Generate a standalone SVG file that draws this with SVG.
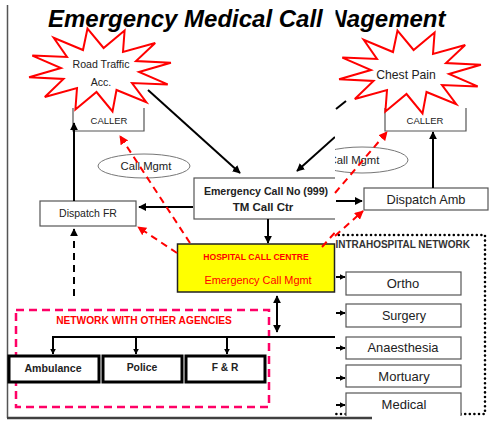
<svg xmlns="http://www.w3.org/2000/svg" width="490" height="421" viewBox="0 0 490 421">
  <style>
    .t { font-family: "Liberation Sans", Arial, sans-serif; fill: #222; }
    .b { font-weight: bold; }
    .red { fill: #ff0000; }
    .box { fill: #fff; stroke: #555; stroke-width: 1.2; }
    .agency { fill: #fff; stroke: #000; stroke-width: 3; }
    .star { fill: #fff; stroke: #ff0000; stroke-width: 2; stroke-linejoin: miter; }
    .ln { stroke: #000; stroke-width: 2; fill: none; }
    .rd { stroke: #ff0000; stroke-width: 2; fill: none; stroke-dasharray: 7 5; }
  </style>
  <defs>
    <marker id="ah" viewBox="0 0 10 10" refX="9" refY="5" markerWidth="8" markerHeight="8" markerUnits="userSpaceOnUse" orient="auto-start-reverse">
      <path d="M0,0 L10,5 L0,10 z" fill="#000"/>
    </marker>
    <marker id="ahs" viewBox="0 0 10 10" refX="9" refY="5" markerWidth="6" markerHeight="6" markerUnits="userSpaceOnUse" orient="auto">
      <path d="M0,0 L10,5 L0,10 z" fill="#000"/>
    </marker>
    <marker id="ahr" viewBox="0 0 10 10" refX="9" refY="5" markerWidth="9" markerHeight="9" markerUnits="userSpaceOnUse" orient="auto">
      <path d="M0,0 L10,5 L0,10 z" fill="#ff0000"/>
    </marker>
    <!-- twelve-point burst outline shared by both incident labels -->
    <polygon id="burst" points="87.5,28.6 103.6,48 124.6,30.5 123,52 155.2,43 136,61 170.9,62.7 139,72 167.7,84.4 132,83 146.3,102.2 116.5,90 112.5,111.4 96.5,92 75.4,109.5 77,88 44.8,97 63.5,79 29.1,77.3 61,68 32.3,55.6 67,57 53.7,37.8 83,50"/>
    <clipPath id="clipL"><rect x="0" y="0" width="335" height="421"/></clipPath>
    <clipPath id="clipR"><rect x="335" y="0" width="155" height="416"/></clipPath>
    <clipPath id="clipTitle"><path clip-rule="evenodd" d="M0,0 H490 V40 H0 Z M326,4 H335.5 V36 H326 Z"/></clipPath>
  </defs>

  <!-- page frame -->
  <line x1="7.5" y1="5" x2="7.5" y2="418" stroke="#555" stroke-width="1.5"/>
  <line x1="7" y1="418" x2="372" y2="418" stroke="#404040" stroke-width="2.5"/>

  <!-- heading -->
  <g id="title" clip-path="url(#clipTitle)">
    <text class="t b" x="48" y="27" font-size="24" font-style="italic" style="fill:#000">Emergency Medical Call Nagement</text>
  </g>

  <!-- left side of the sheet -->
  <g id="caller-left">
    <path d="M73,108 V131 H144 V108" class="box"/>
    <text class="t" x="109" y="124" font-size="9.5" text-anchor="middle">CALLER</text>
  </g>
  <g id="incident-road">
    <use href="#burst" class="star"/>
    <text class="t" x="101" y="68" font-size="10.6" text-anchor="middle">Road Traffic</text>
    <text class="t" x="101" y="86" font-size="10.6" text-anchor="middle">Acc.</text>
  </g>
  <g id="note-left">
    <ellipse cx="144" cy="166" rx="46" ry="12" fill="#fff" stroke="#777" stroke-width="1"/>
    <text class="t" x="146" y="170" font-size="11.3" text-anchor="middle">Call Mgmt</text>
  </g>
  <g id="dispatch-fr">
    <rect x="40" y="201" width="96" height="25" class="box"/>
    <text class="t" x="88" y="217" font-size="10.5" text-anchor="middle">Dispatch FR</text>
  </g>
  <g id="call-centre-999" clip-path="url(#clipL)">
    <rect x="194" y="178" width="144" height="41" class="box"/>
    <text class="t b" x="266" y="195" font-size="10.6" text-anchor="middle">Emergency Call No (999)</text>
    <text class="t b" x="263" y="211" font-size="11.5" text-anchor="middle">TM Call Ctr</text>
  </g>
  <g id="hospital-call-centre">
    <rect x="177.5" y="244" width="157" height="48" fill="#ffff00" stroke="#222" stroke-width="1.5"/>
    <text class="t b red" x="256" y="260" font-size="8.6" text-anchor="middle">HOSPITAL CALL CENTRE</text>
    <text class="t red" x="258" y="284" font-size="10.9" text-anchor="middle">Emergency Call Mgmt</text>
  </g>
  <g id="agencies-network">
    <rect x="16" y="310" width="253" height="97" fill="none" stroke="#ff0066" stroke-width="2.5" stroke-dasharray="8 5"/>
    <text class="t b red" x="144" y="324" font-size="10.2" text-anchor="middle">NETWORK WITH OTHER AGENCIES</text>
  </g>
  <g id="ambulance">
    <rect x="9" y="356" width="90" height="26" class="agency"/>
    <text class="t b" x="53" y="372" font-size="10.6" text-anchor="middle">Ambulance</text>
  </g>
  <g id="police">
    <rect x="103" y="356" width="79" height="26" class="agency"/>
    <text class="t b" x="142" y="371" font-size="10.4" text-anchor="middle">Police</text>
  </g>
  <g id="fire-rescue">
    <rect x="186" y="356" width="79" height="26" class="agency"/>
    <text class="t b" x="225" y="371" font-size="10.2" text-anchor="middle">F &amp; R</text>
  </g>

  <!-- right side of the sheet -->
  <g id="caller-right" clip-path="url(#clipR)">
    <path d="M385,108 V131 H466 V108" class="box"/>
    <text class="t" x="425" y="124" font-size="9.5" text-anchor="middle">CALLER</text>
  </g>
  <g id="incident-chest" clip-path="url(#clipR)">
    <use href="#burst" class="star" transform="translate(310,2)"/>
    <text class="t" x="406" y="79" font-size="12.2" text-anchor="middle">Chest Pain</text>
  </g>
  <g id="note-right" clip-path="url(#clipR)">
    <ellipse cx="362" cy="160" rx="46" ry="13" fill="#fff" stroke="#777" stroke-width="1"/>
    <text class="t" x="354" y="164" font-size="11.3" text-anchor="middle">Call Mgmt</text>
  </g>
  <g id="dispatch-amb" clip-path="url(#clipR)">
    <rect x="364" y="188" width="124" height="22" class="box"/>
    <text class="t" x="426" y="204" font-size="12.8" text-anchor="middle">Dispatch Amb</text>
  </g>
  <g id="intrahospital-network" clip-path="url(#clipR)">
    <rect x="325" y="235" width="160" height="179" fill="none" stroke="#000" stroke-width="2.6" stroke-linecap="round" stroke-dasharray="0 4.6"/>
    <text class="t b" x="470" y="248" font-size="10" text-anchor="end" style="fill:#333">INTRAHOSPITAL NETWORK</text>
  </g>
  <g id="dept-ortho">
    <rect x="346" y="272" width="115" height="23" class="box"/>
    <text class="t" x="403" y="288" font-size="13" text-anchor="middle">Ortho</text>
  </g>
  <g id="dept-surgery">
    <rect x="346" y="304" width="115" height="23" class="box"/>
    <text class="t" x="404" y="320" font-size="12.6" text-anchor="middle">Surgery</text>
  </g>
  <g id="dept-anaesthesia">
    <rect x="346" y="337" width="115" height="22" class="box"/>
    <text class="t" x="403" y="352" font-size="12.9" text-anchor="middle">Anaesthesia</text>
  </g>
  <g id="dept-mortuary">
    <rect x="346" y="365" width="115" height="22" class="box"/>
    <text class="t" x="404" y="381" font-size="13" text-anchor="middle">Mortuary</text>
  </g>
  <g id="dept-medical" clip-path="url(#clipR)">
    <rect x="346" y="393" width="115" height="26" class="box"/>
    <text class="t" x="404" y="409" font-size="13" text-anchor="middle">Medical</text>
  </g>

  <!-- connectors -->
  <g id="connectors">
    <line x1="74" y1="201" x2="74" y2="123" class="ln" marker-end="url(#ah)"/>
    <line x1="148" y1="90" x2="240" y2="173" class="ln" marker-end="url(#ah)"/>
    <line x1="335" y1="137" x2="297" y2="171" class="ln" marker-end="url(#ah)" clip-path="url(#clipL)"/>
    <line x1="336" y1="109" x2="346" y2="101" class="ln"/>
    <line x1="193" y1="207" x2="139" y2="207" class="ln" stroke-width="2.5" marker-end="url(#ah)"/>
    <line x1="268" y1="219" x2="268" y2="243" class="ln" marker-end="url(#ah)"/>
    <line x1="336" y1="201" x2="362" y2="201" class="ln" marker-end="url(#ah)"/>
    <line x1="433" y1="188" x2="433" y2="132" class="ln" stroke-width="2.5" marker-end="url(#ah)"/>
    <line x1="74" y1="296" x2="74" y2="229" class="ln" stroke-dasharray="7 5" marker-end="url(#ah)"/>
    <line x1="277" y1="296" x2="277" y2="332" class="ln" marker-start="url(#ah)" marker-end="url(#ah)"/>
    <line x1="52" y1="337" x2="335" y2="337" class="ln" stroke-width="2.5"/>
    <line x1="53" y1="337" x2="53" y2="354" class="ln" marker-end="url(#ahs)"/>
    <line x1="136" y1="337" x2="136" y2="354" class="ln" marker-end="url(#ahs)"/>
    <line x1="227" y1="337" x2="227" y2="354" class="ln" marker-end="url(#ahs)"/>
    <!-- red dashed links from the hospital call centre -->
    <line x1="190" y1="243" x2="120" y2="136" class="rd" marker-end="url(#ahr)"/>
    <line x1="177" y1="253" x2="138" y2="227" class="rd" marker-end="url(#ahr)"/>
    <line x1="322" y1="247" x2="338" y2="229" class="rd" clip-path="url(#clipL)"/>
    <line x1="335" y1="193" x2="387" y2="132" class="rd" marker-end="url(#ahr)"/>
    <line x1="335" y1="236" x2="363" y2="211" class="rd" marker-end="url(#ahr)"/>
    <!-- feeds into each department -->
    <line x1="336" y1="277" x2="345" y2="277" class="ln" stroke-width="1.5" marker-end="url(#ahs)"/>
    <line x1="336" y1="313" x2="345" y2="313" class="ln" stroke-width="1.5" marker-end="url(#ahs)"/>
    <line x1="336" y1="348" x2="345" y2="348" class="ln" stroke-width="1.5" marker-end="url(#ahs)"/>
    <line x1="336" y1="378" x2="345" y2="378" class="ln" stroke-width="1.5" marker-end="url(#ahs)"/>
    <line x1="336" y1="405" x2="345" y2="405" class="ln" stroke-width="1.5" marker-end="url(#ahs)"/>
  </g>
</svg>
